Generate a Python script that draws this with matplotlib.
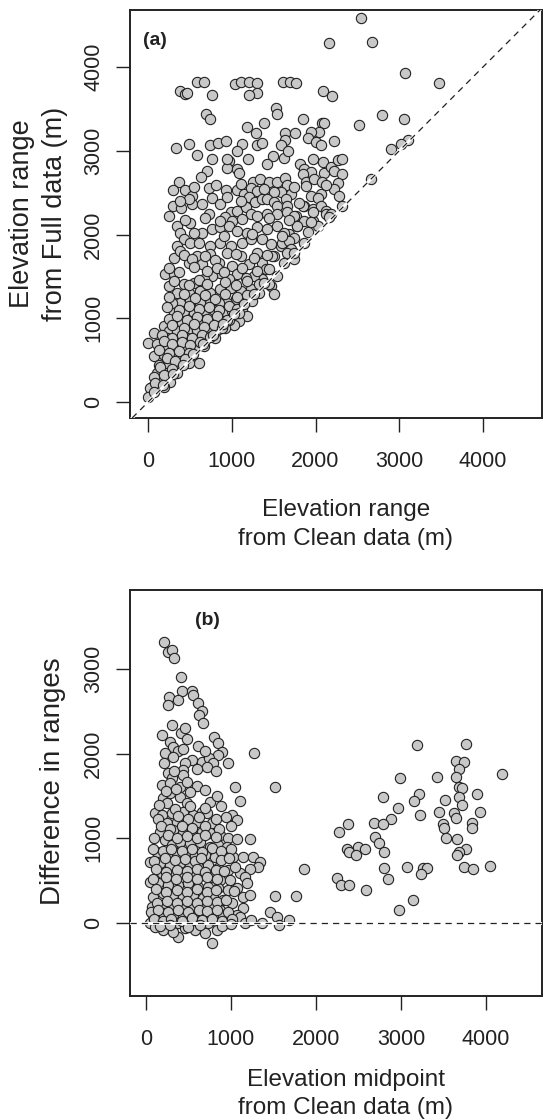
import matplotlib
matplotlib.use("Agg")
import matplotlib.pyplot as plt

plt.rcParams['font.family'] = ['Liberation Sans', 'DejaVu Sans']

# ---- panel (a): range from clean data vs range from full data (m) ----
clean_range = [
    2544, 2164, 2676, 3072, 3472, 584, 672, 376, 444, 464, 764, 1036, 1104, 1204, 1296, 1304, 1204,
    1616, 1696, 1772, 2084, 2196, 2524, 2796, 3056, 3110, 3016, 2896, 2664,
    696, 744, 1524, 1536, 1852, 1176, 1284, 1384, 1636, 1752, 1636, 1584, 2076, 2104, 2044, 1948,
    1904, 2004, 2064, 2216, 332, 484, 584, 744, 832, 932, 1124, 1064, 1192, 1296, 1364, 764, 964,
    944, 1064, 1084, 704, 636, 1492, 1424, 1624, 1676, 1812, 1964, 2084, 1864, 1944, 1856, 2104,
    2184, 2264, 2312, 2224, 2312, 364, 296, 444, 524, 524, 296, 396, 244, 732, 732, 816, 936, 764,
    864, 944, 1056, 1144, 1256, 1336, 1444, 1536, 1632, 1656, 1584, 1504, 1704, 1224, 1296, 1384,
    1204, 1272, 1364, 1424, 1504, 1544, 1644, 1664, 984, 1064, 1164, 1224, 924, 1004, 1124, 1304,
    1424, 1544, 1664, 1764, 1884, 1984, 2072, 2264, 2224, 2064, 1944, 1884, 2024, 1864, 1964, 2064,
    2124, 2284, 2320, 344, 384, 504, 424, 644, 764, 864, 964, 1064, 1184, 1304, 1424, 1544, 1684,
    1784, 1864, 1964, 2024, 1744, 344, 504, 604, 744, 864, 984, 1124, 1224, 1364, 1464, 1584, 484,
    944, 2124, 2184, 1964, 1944, 1856, 1744, 1784, 1504, 1464, 1624, 1604, 1684, 1704,
    304, 384, 204, 304, 484, 584, 644, 744, 844, 944, 1004, 1104, 1204, 1304, 1364, 1404, 1484,
    1544, 1664, 1744, 1504, 1444, 1364, 1264, 1164, 1064, 964, 864, 764, 664, 544, 424, 244, 344,
    484, 624, 744, 864, 984, 1104, 1224, 1324, 1244, 1144, 1044, 944, 844, 744, 624, 504, 384, 284,
    304, 424, 544, 664, 784, 904, 1004, 1124, 1184, 1084, 1024, 964, 864, 764, 644, 524, 404, 264,
    184, 244, 344, 464, 584, 704, 824, 924, 64, 4, 224, 344, 464, 584, 704, 804, 224, 344, 444, 564,
    664, 64, 184, 304, 404, 524, 604, 124, 244, 364, 484, 104, 224, 344, 144, 264, 44, 24, 184, 4,
    424, 524, 684, 804, 1044, 1264, 1424,
    244, 364, 544, 704, 824, 904, 1124, 1304, 1444,
    304, 484, 604, 704, 924, 1044, 1184, 1324,
    244, 424, 564, 684, 804, 924, 1064, 1184,
    224, 364, 484, 604, 724, 844, 964, 1064,
    244, 344, 464, 584, 704, 824, 944, 1084,
    284, 424, 544, 664, 784, 884,
    164, 284, 404, 524, 644, 744,
    104, 184, 284, 404, 504, 624,
    124, 244, 364, 484,
    224, 324, 444,
    144, 284, 64, 184, 84, 64,
    544, 904, 1244, 1604, 1904,
    444, 684, 864, 1444, 1684, 2164,
    384, 644, 1104, 1804,
    544, 1104, 1744, 2124,
    180, 300, 420, 540, 660, 780, 900, 1020, 1140, 1260, 1380, 1620, 1740, 1860,
]
full_range = [
    4584, 4284, 4304, 3924, 3804, 3824, 3824, 3712, 3684, 3692, 3672, 3792, 3824, 3824, 3804, 3692, 3672,
    3824, 3824, 3804, 3712, 3656, 3312, 3432, 3384, 3124, 3084, 3016, 2664,
    3444, 3376, 3512, 3444, 3376, 3284, 3212, 3332, 3212, 3212, 3124, 3064, 3332, 3332, 3224, 3224,
    3152, 3104, 3064, 3112, 3032, 3080, 2952, 3064, 3096, 3112, 3080, 2992, 2904, 3064, 3092, 2904, 2880,
    2800, 2784, 2736, 2764, 2684, 2936, 2844, 2912, 2992, 2844, 2896, 2864, 2784, 2744, 2724, 2736,
    2804, 2884, 2896, 2764, 2724, 2632, 2536, 2536, 2456, 2364, 2336, 2312, 2224, 2244, 2552, 2592, 2536, 2432,
    2364, 2444, 2536, 2484, 2632, 2664, 2632, 2632, 2672, 2592, 2512, 2512, 2484, 2552, 2524, 2544,
    2444, 2384, 2424, 2424, 2384, 2344, 2424, 2344, 2264, 2284, 2324, 2244, 2204, 2164, 2184, 2224,
    2244, 2244, 2264, 2224, 2624, 2664, 2632, 2616, 2544, 2484, 2464, 2576, 2432, 2344, 2304, 2344,
    2284, 2464, 2344, 2104, 2024, 2136, 1944, 2024, 2064, 2084, 2104, 2044, 2024, 2084, 2064, 2104, 2004,
    2104, 2164, 2164, 2104, 1964, 1864, 1904, 1904, 1864, 1904, 1864, 1904, 1944, 1944, 1884, 1864, 2424,
    2904, 2244, 2244, 2264, 2152, 2344, 2224, 2104, 1744, 1384, 2024, 1904, 1924, 1824,
    1724, 1804, 1524, 1524, 1664, 1744, 1644, 1764, 1664, 1784, 1624, 1744, 1644, 1784, 1664, 1584, 1744,
    1504, 1784, 1704, 1284, 1404, 1464, 1504, 1484, 1524, 1464, 1544, 1504, 1464, 1424, 1404, 1384, 1304,
    1304, 1324, 1304, 1344, 1364, 1324, 1344, 1304, 1204, 1224, 1224, 1184, 1184, 1184, 1184, 1204, 1184, 1184,
    1064, 1084, 1064, 1084, 1104, 1064, 1084, 1104, 1024, 964, 924, 984, 984, 964, 984, 964, 944, 944,
    904, 844, 844, 844, 864, 864, 864, 884, 824, 704, 764, 744, 764, 744, 764, 764, 664, 644, 664, 644,
    664, 544, 564, 544, 564, 544, 464, 444, 444, 444, 464, 344, 344, 344, 264, 244, 184, 164, 184, 64,
    1760, 1712, 1748, 1700, 1772, 1716, 1752,
    1600, 1556, 1612, 1570, 1598, 1548, 1604, 1566, 1590,
    1440, 1396, 1452, 1410, 1436, 1392, 1448, 1404,
    1250, 1288, 1240, 1276, 1232, 1290, 1248, 1278,
    1140, 1100, 1150, 1108, 1136, 1096, 1144, 1112,
    990, 1030, 980, 1020, 996, 1032, 984, 1060,
    920, 884, 926, 890, 918, 878,
    800, 760, 796, 766, 804, 772,
    690, 724, 688, 718, 684, 716,
    620, 586, 612, 590,
    520, 488, 512,
    414, 392, 296, 318, 232, 116,
    2020, 1980, 2012, 1988, 2030,
    2170, 2200, 2160, 2196, 2168, 2204,
    2400, 2366, 2396, 2372,
    2566, 2600, 2570, 2596,
    200, 330, 440, 570, 690, 800, 930, 1050, 1170, 1290, 1420, 1660, 1780, 1900,
]

# ---- panel (b): midpoint from clean data vs difference in ranges (m) ----
mid_clean = [
    216, 255, 302, 334, 412, 428, 538, 558, 271, 255, 381, 609, 656, 625, 676, 302, 184, 283, 412, 459,
    479, 805, 852, 609, 314, 381, 224, 322, 216, 892, 852, 1273, 962, 538, 459, 656, 742, 793, 723, 440,
    263, 440, 302, 184, 283, 400, 479, 597, 1049, 1513,
    204, 283, 400, 479, 243, 754, 833, 1108, 106, 184, 302, 440, 558, 656, 715, 1010, 1069, 243, 361, 479,
    597, 774, 165, 322, 440, 538, 656, 754, 872, 970, 1069, 1226, 224, 302, 400, 518, 636, 754, 852, 951,
    125, 243, 361, 459, 577, 695, 813, 911, 1029, 1147, 1265, 1344, 47, 1324, 1226, 1108, 1167, 1187,
    165, 283, 400, 518, 617, 734, 852, 970, 1049, 47, 184, 302, 420, 538, 656, 774, 872, 990, 145, 263,
    381, 499, 617, 734, 852, 970, 1069, 1147, 1226, 1521, 86, 204, 322, 440, 558, 676, 793, 911, 1010,
    66, 184, 302, 420, 538, 656, 774, 872, 1147, 86, 204, 322, 440, 558, 676, 793, 911, 1069, 1108,
    1462, 1540, 47, 145, 263, 381, 499, 617, 734, 852, 951, 1167, 1363, 204, 381, 577, 695, 833, 774,
    322, 459, 106,
    3191, 3761, 3643, 3741, 3682, 4193, 2994, 3419, 3643, 3682, 3721, 3210, 2790, 3890, 3682, 3152, 3513,
    3713, 2963, 3222, 3446, 3623, 3643, 3930, 2884, 2680, 2786, 2377, 2267, 3497, 3505, 3839, 3839,
    2692, 2739, 2806, 3533, 3662, 2366, 2385, 2495, 2574, 2475, 3761, 3682, 3662, 2798, 3073, 3261,
    3301, 3238, 3741, 3851, 4048, 1855, 2248, 2299, 2393, 2590, 2849, 3144, 2975, 1764, 1682, 1560,
    150, 340, 520, 700, 880,
    140, 380, 500, 620, 820, 940,
    180, 280, 420, 540, 700, 860, 1000,
    100, 260, 360, 480, 600, 700, 820,
    80, 200, 300, 420, 540, 660, 780, 880, 1000,
    100, 220, 340, 460, 580, 650, 880, 980,
    120, 240, 360, 480, 600, 700, 820, 920,
    80, 230, 350, 480, 600, 720, 830,
    120, 240, 360, 480, 600, 720, 820, 1040,
    130, 250, 370, 480, 600, 720, 840, 940,
    60, 140, 260, 380, 500, 620, 720, 840, 960,
    100, 200, 300, 420, 540, 660, 780, 900, 1010, 1240,
    160, 280, 500, 640, 900, 1000,
    230, 350, 520, 700, 330, 600, 820, 440, 700,
]
diff_range = [
    3312, 3202, 3222, 3123, 2899, 2742, 2738, 2691, 2671, 2573, 2632, 2593, 2506, 2455, 2365, 2337, 2219,
    2141, 2239, 2298, 2168, 2192, 2121, 2090, 2082, 2031, 2003, 1964, 1893, 2023, 1984, 2011, 1893, 1925,
    1893, 1905, 1944, 1885, 1838, 1807, 1768, 1748, 1709, 1630, 1658, 1610, 1669, 1618, 1610, 1610,
    1471, 1530, 1490, 1412, 1412, 1432, 1498, 1443, 1294, 1274, 1294, 1314, 1274, 1314, 1302, 1274, 1215,
    1176, 1196, 1176, 1196, 1176, 1078, 1097, 1058, 1097, 1078, 1058, 1038, 999, 987, 987, 980, 921, 960,
    940, 960, 901, 921, 901, 842, 803, 822, 822, 803, 803, 783, 783, 783, 775, 775, 724, 724, 665, 634,
    587, 539, 469, 705, 685, 705, 685, 665, 685, 646, 626, 665, 488, 587, 567, 587, 547, 567, 547, 508,
    508, 469, 449, 449, 469, 429, 429, 410, 390, 410, 312, 331, 319, 311, 351, 331, 311, 331, 292, 311,
    272, 233, 194, 213, 194, 213, 174, 194, 174, 154, 174, 95, 115, 95, 95, 76, 95, 76, 95, 95, 68, 135,
    68, 0, 0, 0, 0, 0, 0, 0, 0, 0, 0, 0, -82, -160, -82, -121, -82, -231, -101, -62, -42,
    2102, 2110, 1913, 1897, 1815, 1756, 1716, 1728, 1728, 1609, 1589, 1522, 1491, 1522, 1491, 1444, 1451,
    1393, 1361, 1275, 1314, 1294, 1235, 1314, 1224, 1184, 1169, 1169, 1070, 1169, 1117, 1184, 1117,
    1019, 941, 842, 1000, 988, 874, 842, 901, 874, 803, 874, 842, 803, 646, 666, 646, 646, 579, 666,
    634, 677, 634, 528, 449, 449, 390, 516, 272, 155, 320, 37, -22,
    1390, 1350, 1384, 1356, 1378,
    1226, 1258, 1230, 1252, 1222, 1248,
    1144, 1112, 1150, 1118, 1140, 1110, 1146,
    1004, 1036, 1008, 1030, 1002, 1040, 1012,
    874, 846, 878, 850, 870, 842, 880, 852, 868,
    736, 766, 740, 760, 732, 770, 744, 764,
    636, 604, 630, 610, 640, 606, 628, 612,
    516, 546, 520, 544, 514, 540, 522,
    396, 366, 392, 370, 398, 364, 388, 372,
    236, 264, 240, 262, 232, 258, 244, 266,
    126, 154, 132, 150, 124, 156, 136, 148, 128,
    52, 28, 48, 24, 56, 30, 50, 26, 44, 30,
    -40, -18, -44, -22, -38, -16,
    1560, 1580, 1548, 1572, 1800, 1816, 1790, 2050, 2036,
]

ticks = [0, 1000, 2000, 3000, 4000]
dark = '#222222'
fill = '#c8c8c8'

fig = plt.figure(figsize=(5.43, 11.2), dpi=100)
ax1 = fig.add_axes([0.2403, 0.6268, 0.7578, 0.3647])
ax2 = fig.add_axes([0.2403, 0.1107, 0.7578, 0.3625])


def style(ax):
    for s in ax.spines.values():
        s.set_linewidth(1.4)
        s.set_color(dark)
    ax.set_xticks(ticks)
    ax.tick_params(axis='both', direction='out', length=10, width=1.0, color=dark,
                   labelsize=15.5, labelcolor=dark)
    ax.tick_params(axis='x', pad=14)
    ax.tick_params(axis='y', pad=9)
    for lab in ax.get_yticklabels():
        lab.set_rotation(90)
        lab.set_va('center')


# (a)
ax1.scatter(clean_range, full_range, s=55, c=fill, edgecolors=dark, linewidths=0.8, zorder=2)
ax1.axline((0, 0), slope=1, color='white', lw=2.2, zorder=3)
ax1.axline((0, 0), slope=1, color=dark, lw=0.9, ls=(0, (5, 4)), zorder=4)
ax1.set_xlim(-211, 4705)
ax1.set_ylim(-191, 4687)
ax1.set_yticks(ticks)
style(ax1)
ax1.text(0.06, 0.925, '(a)', transform=ax1.transAxes, fontsize=14, fontweight='bold',
         color=dark, ha='center', va='center')
ax1.text(0.5237, -0.2607, 'Elevation range\nfrom Clean data (m)', transform=ax1.transAxes,
         fontsize=17.5, color=dark, ha='center', va='center', linespacing=1.45)
ax1.text(-0.2235, 0.5, 'Elevation range\nfrom Full data (m)', transform=ax1.transAxes,
         fontsize=19.5, color=dark, ha='center', va='center', rotation=90, linespacing=1.35)

# (b)
ax2.scatter(mid_clean, diff_range, s=55, c=fill, edgecolors=dark, linewidths=0.8, zorder=2)
ax2.axhline(0, color='white', lw=2.2, zorder=3)
ax2.axhline(0, color=dark, lw=0.9, ls=(0, (5, 4)), zorder=4)
ax2.set_xlim(-182, 4659)
ax2.set_ylim(-862, 3931)
ax2.set_yticks([0, 1000, 2000, 3000])
style(ax2)
ax2.text(0.186, 0.926, '(b)', transform=ax2.transAxes, fontsize=14, fontweight='bold',
         color=dark, ha='center', va='center')
ax2.text(0.5237, -0.2414, 'Elevation midpoint\nfrom Clean data (m)', transform=ax2.transAxes,
         fontsize=17.5, color=dark, ha='center', va='center', linespacing=1.35)
ax2.text(-0.188, 0.53, 'Difference in ranges', transform=ax2.transAxes,
         fontsize=20, color=dark, ha='center', va='center', rotation=90)

fig.savefig('out.png', dpi=100, facecolor='white')
